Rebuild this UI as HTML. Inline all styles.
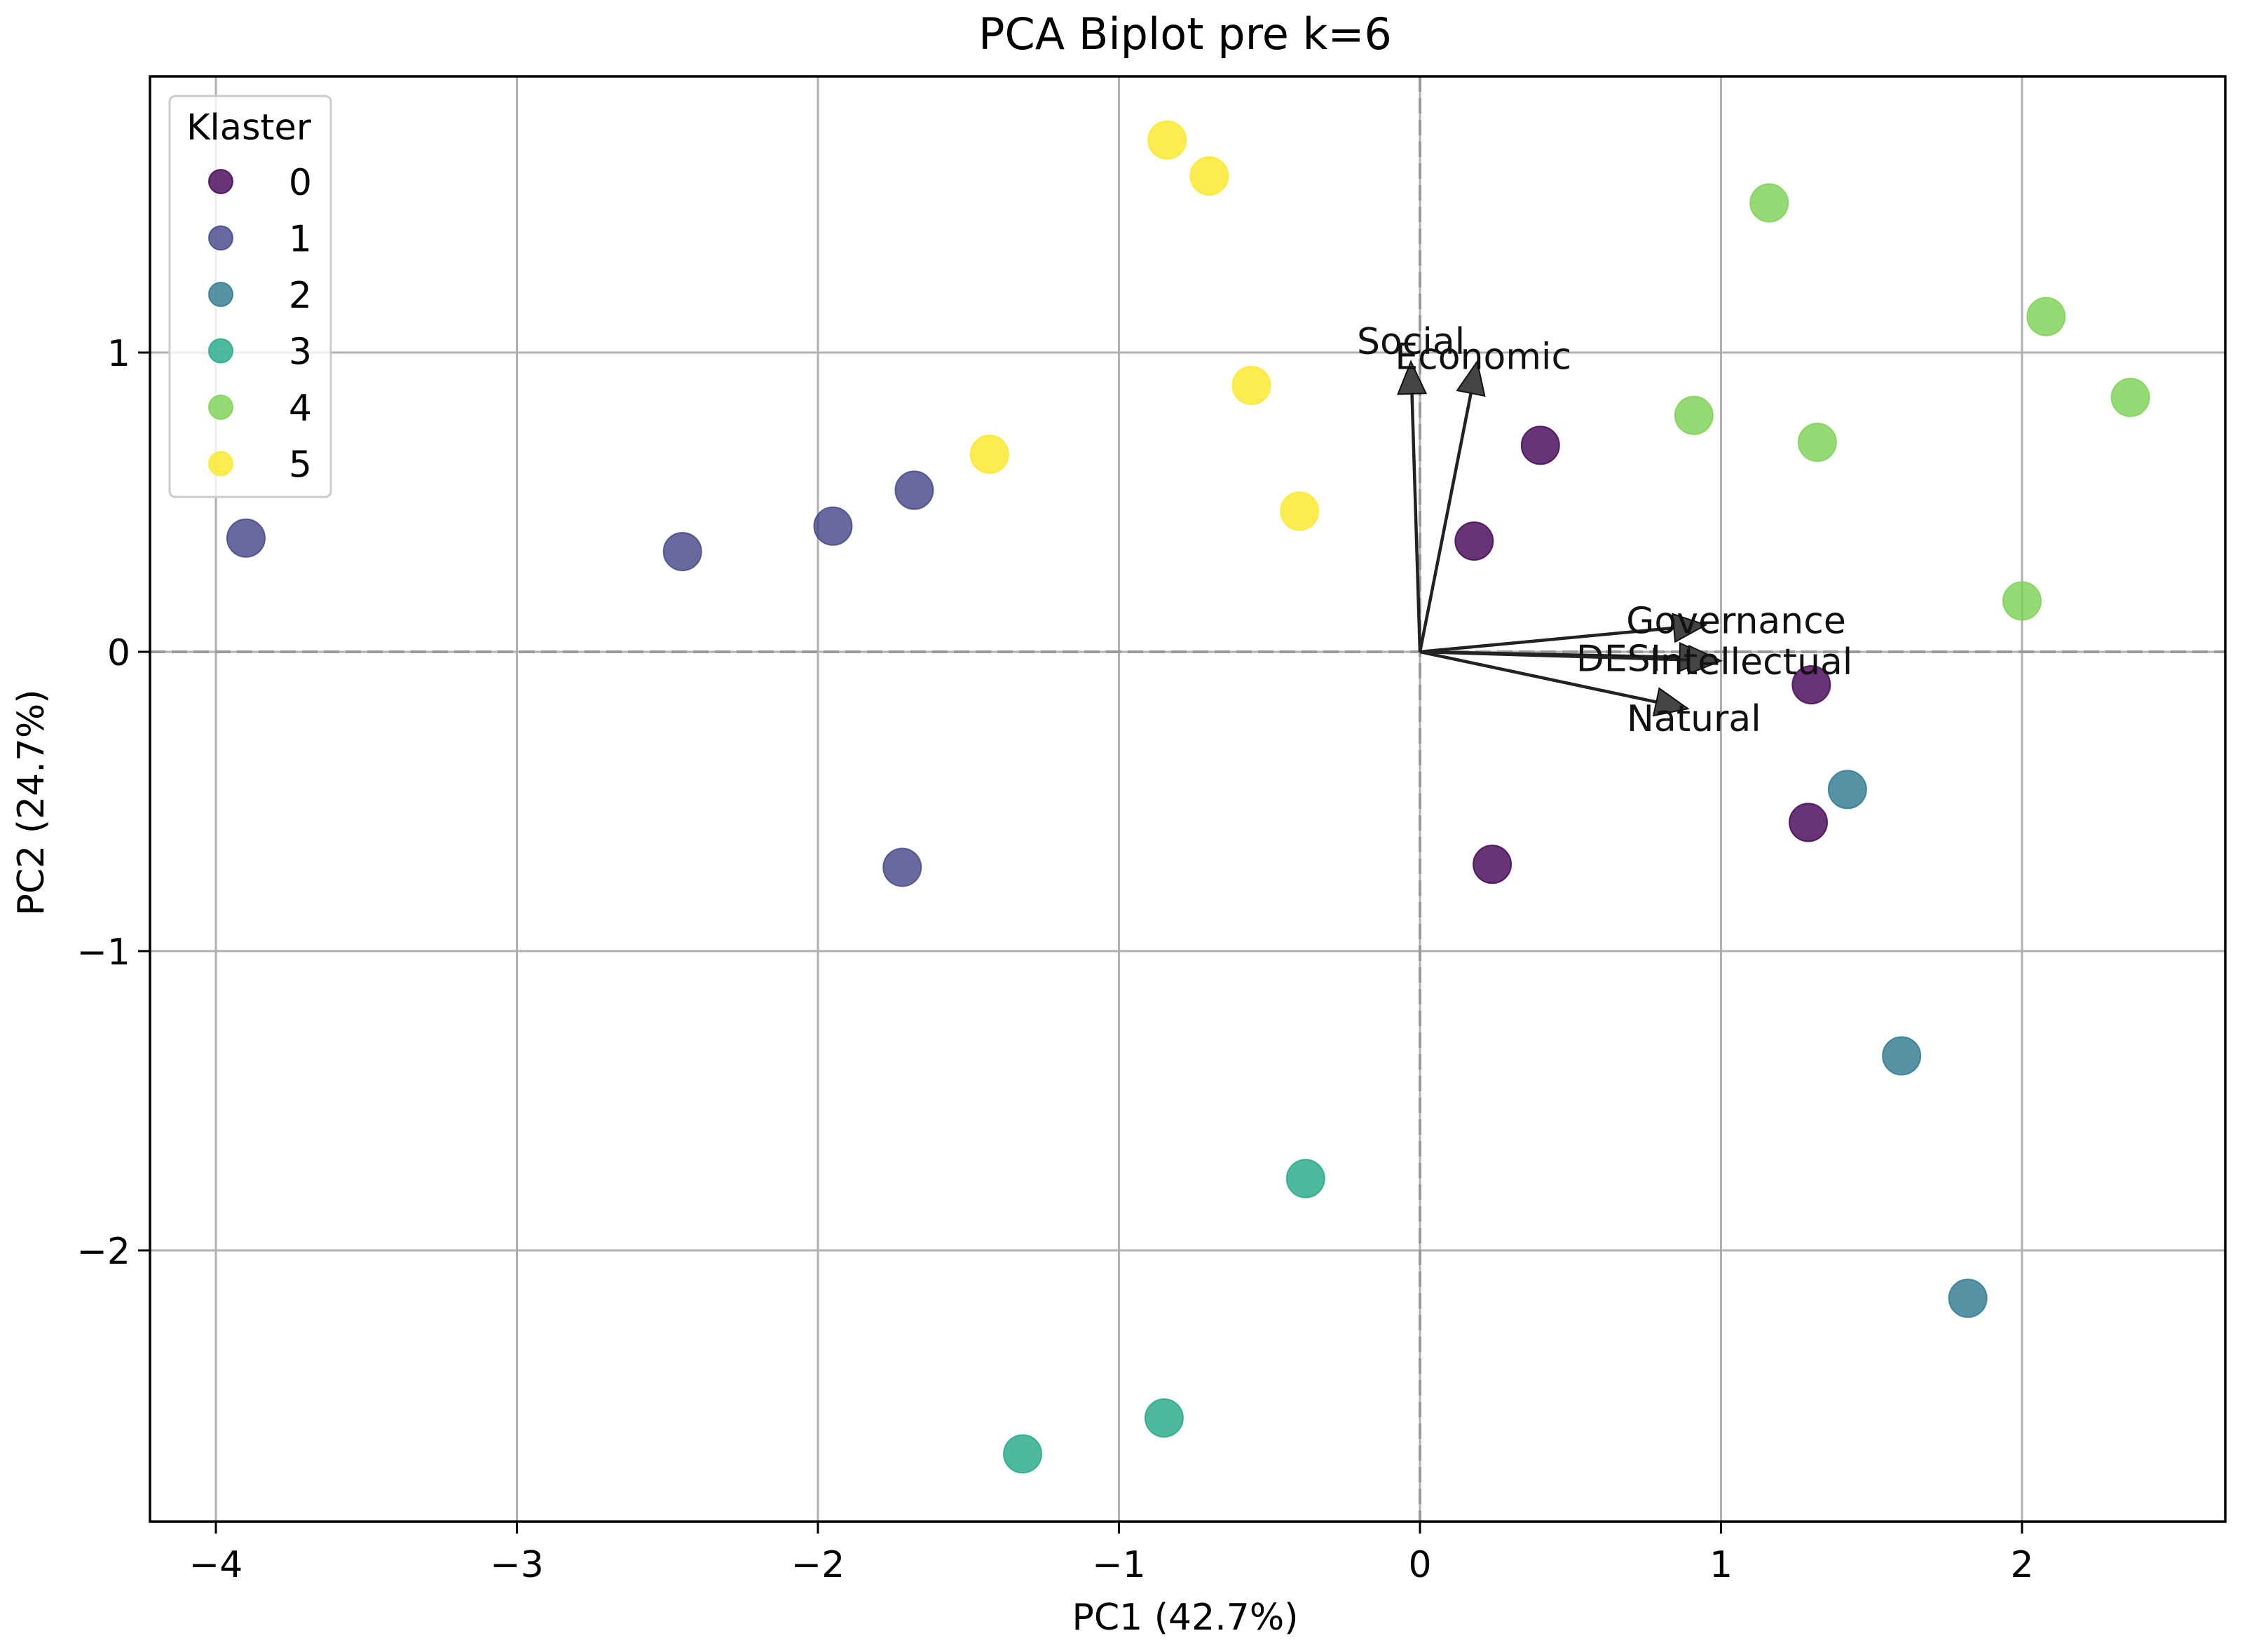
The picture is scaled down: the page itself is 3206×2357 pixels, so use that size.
<!DOCTYPE html>
<html><head><meta charset="utf-8"><style>
html,body{margin:0;padding:0;background:#fff;}
svg{display:block;font-family:"DejaVu Sans","Liberation Sans",sans-serif;}
</style></head><body>
<svg id="chart" width="3206" height="2357" viewBox="0 0 3206 2357" xmlns="http://www.w3.org/2000/svg">
<rect width="3206" height="2357" fill="#fff"/>
<g id="grid"></g>
<g id="refs"></g>
<g id="points"></g>
<g id="arrows"></g>
<rect x="214" y="109" width="2961" height="2062" fill="none" stroke="#000" stroke-width="3.5"/>
<g id="ticks"></g>
<text x="1691" y="70" font-size="62" text-anchor="middle">PCA Biplot pre k=6</text>
<text x="1691" y="2325" font-size="52" text-anchor="middle">PC1 (42.7%)</text>
<text x="0" y="0" font-size="52" text-anchor="middle" transform="translate(62,1145) rotate(-90)">PC2 (24.7%)</text>
<g id="legend"></g>
</svg>
<script>
const xTicks=[-4,-3,-2,-1,0,1,2];
const yTicks=[-2,-1,0,1];
const clusterIds=[0,1,2,3,4,5];
const clusterColors=["#440154","#414487","#2a788e","#22a884","#7ad151","#fde725"];
const c0x=[0.40,0.18,1.30,1.29,0.24], c0y=[0.69,0.37,-0.11,-0.57,-0.71];
const c1x=[-3.90,-2.45,-1.95,-1.68,-1.72], c1y=[0.38,0.335,0.42,0.54,-0.72];
const c2x=[1.42,1.60,1.82], c2y=[-0.46,-1.35,-2.16];
const c3x=[-0.38,-0.85,-1.32], c3y=[-1.76,-2.56,-2.68];
const c4x=[1.16,2.08,2.36,0.91,1.32,2.00], c4y=[1.50,1.12,0.85,0.79,0.70,0.17];
const c5x=[-0.84,-0.70,-0.56,-1.43,-0.40], c5y=[1.71,1.59,0.89,0.66,0.47];
const loadNames=["Social","Economic","Governance","DESI","Intellectual","Natural"];
const loadX=[-0.03,0.19,0.95,0.97,1.0,0.89];
const loadY=[0.97,0.97,0.09,-0.02,-0.03,-0.19];
const labelX=[-0.03,0.21,1.05,0.66,1.10,0.91];
const labelY=[1.04,0.99,0.107,-0.02,-0.03,-0.22];

const NS="http://www.w3.org/2000/svg";
const L=214,R=3175,T=109,B=2171;
const X0=2026,UX=429.5,Y0=930,UY=427;
const sx=v=>X0+v*UX, sy=v=>Y0-v*UY;
function mk(tag,attrs,parent){const e=document.createElementNS(NS,tag);for(const k in attrs)e.setAttribute(k,attrs[k]);parent.appendChild(e);return e;}
const grid=document.getElementById('grid'),ticks=document.getElementById('ticks');
xTicks.forEach(v=>{
  const g=mk('line',{x1:sx(v),x2:sx(v),y1:T,y2:B,stroke:'#b0b0b0','stroke-width':3},grid);
  
  
  const t=mk('line',{x1:sx(v),x2:sx(v),y1:B,y2:B+17,stroke:'#000','stroke-width':3},ticks);
  
  
  const l=mk('text',{x:sx(v),y:2250,'font-size':52,'text-anchor':'middle'},ticks);
  l.textContent=(v<0?'\u2212'+(-v):String(v));
  
  
});
yTicks.forEach(v=>{
  const g=mk('line',{x1:L,x2:R,y1:sy(v),y2:sy(v),stroke:'#b0b0b0','stroke-width':3},grid);
  
  
  const t=mk('line',{x1:L-17,x2:L,y1:sy(v),y2:sy(v),stroke:'#000','stroke-width':3},ticks);
  
  
  const l=mk('text',{x:L-28,y:sy(v)+19,'font-size':52,'text-anchor':'end'},ticks);
  l.textContent=(v<0?'\u2212'+(-v):String(v));
  
  
});
const refs=document.getElementById('refs');
const h=mk('line',{x1:L,x2:R,y1:sy(0),y2:sy(0),stroke:'#999','stroke-width':4,'stroke-dasharray':'22,9'},refs);


const vv=mk('line',{x1:sx(0),x2:sx(0),y1:T,y2:B,stroke:'#999','stroke-width':4,'stroke-dasharray':'22,9'},refs);



const pts=document.getElementById('points');
const clusters=[[c0x,c0y],[c1x,c1y],[c2x,c2y],[c3x,c3y],[c4x,c4y],[c5x,c5y]];
clusters.forEach((c,i)=>{
  c[0].forEach((xv,j)=>{
    const p=mk('circle',{cx:sx(xv),cy:sy(c[1][j]),r:27,fill:clusterColors[i],'fill-opacity':0.8,stroke:clusterColors[i],'stroke-opacity':0.8,'stroke-width':2},pts);
    
    
  });
});
const arr=document.getElementById('arrows');
loadNames.forEach((n,i)=>{
  const x1=sx(0),y1=sy(0),x2=sx(loadX[i]),y2=sy(loadY[i]);
  const dx=x2-x1,dy=y2-y1,len=Math.hypot(dx,dy),ux=dx/len,uy=dy/len;
  const hl=46,hw=20;
  const bx=x2-ux*hl,by=y2-uy*hl;
  const ln=mk('line',{x1:x1,y1:y1,x2:bx,y2:by,stroke:'#222','stroke-width':4.5},arr);
  
  
  const hd=mk('polygon',{points:`${x2},${y2} ${bx-uy*hw},${by+ux*hw} ${bx+uy*hw},${by-ux*hw}`,fill:'#444',stroke:'#111','stroke-width':2},arr);
  
  
  const tx=mk('text',{x:sx(labelX[i]),y:sy(labelY[i])+19,'font-size':52,'text-anchor':'middle',fill:'#111'},arr);
  tx.textContent=n;
  
  
});
const leg=document.getElementById('legend');
const box=mk('rect',{x:242,y:137,width:230,height:572,rx:8,fill:'#fff','fill-opacity':0.8,stroke:'#ccc','stroke-width':3},leg);


const lt=mk('text',{x:355,y:199,'font-size':51,'text-anchor':'middle'},leg);
lt.textContent='Klaster';


clusterIds.forEach((id,i)=>{
  const y=259+i*80.5;
  const m=mk('circle',{cx:315,cy:y,r:17,fill:clusterColors[i],'fill-opacity':0.8,stroke:clusterColors[i],'stroke-opacity':0.8,'stroke-width':2},leg);
  
  
  const t=mk('text',{x:445,y:y+19,'font-size':52,'text-anchor':'end'},leg);
  t.textContent=String(id);
  
  
});
</script>
</body></html>
